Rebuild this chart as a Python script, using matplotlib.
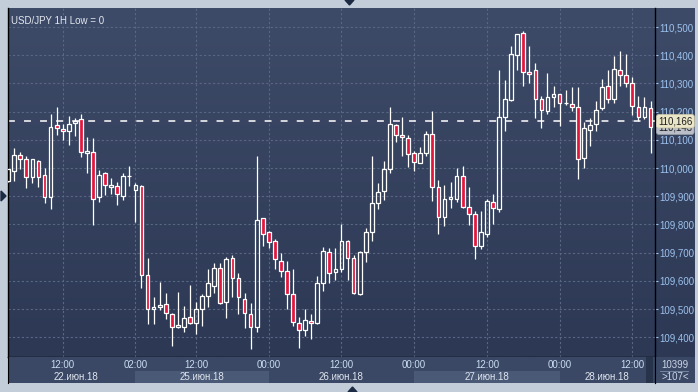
import matplotlib
matplotlib.use("Agg")
import matplotlib.pyplot as plt
import numpy as np
from matplotlib.colors import LinearSegmentedColormap
from matplotlib.patches import Polygon, Rectangle
from matplotlib import transforms

plt.rcParams['font.family'] = ['Liberation Sans', 'DejaVu Sans']

# USD/JPY 1H candles, 107 bars
opens = [109.955, 109.990, 110.045, 110.031, 109.969, 110.024, 109.974, 109.896, 110.151, 110.139,
         110.130, 110.159, 110.175, 110.054, 110.056, 109.896, 109.981, 109.934, 109.935, 109.900,
         109.971, 109.921, 109.935, 109.620, 109.499, 109.508, 109.517, 109.481, 109.435, 109.435,
         109.471, 109.449, 109.499, 109.546, 109.583, 109.644, 109.524, 109.680, 109.609, 109.534,
         109.482, 109.435, 109.822, 109.772, 109.741, 109.670, 109.634, 109.552, 109.449, 109.425,
         109.456, 109.449, 109.591, 109.701, 109.630, 109.641, 109.741, 109.680, 109.552, 109.701,
         109.772, 109.875, 109.920, 109.995, 110.151, 110.116, 110.105, 110.054, 110.019, 110.054,
         110.120, 109.932, 109.827, 109.889, 109.889, 109.973, 109.861, 109.836, 109.725, 109.765,
         109.881, 109.854, 110.182, 110.241, 110.402, 110.480, 110.339, 110.346, 110.244, 110.201,
         110.251, 110.261, 110.229, 110.226, 110.215, 110.034, 110.134, 110.155, 110.212, 110.290,
         110.244, 110.346, 110.329, 110.300, 110.215, 110.180, 110.212]
highs = [109.998, 110.070, 110.056, 110.043, 110.033, 110.028, 109.999, 110.192, 110.217, 110.156,
         110.184, 110.177, 110.192, 110.110, 110.106, 109.993, 109.987, 109.963, 109.951, 109.981,
         110.007, 109.947, 109.939, 109.680, 109.542, 109.595, 109.557, 109.485, 109.559, 109.511,
         109.585, 109.524, 109.553, 109.642, 109.664, 109.664, 109.685, 109.692, 109.629, 109.556,
         109.520, 110.043, 109.824, 109.778, 109.747, 109.700, 109.670, 109.642, 109.471, 109.499,
         109.482, 109.617, 109.719, 109.715, 109.715, 109.801, 109.745, 109.692, 109.707, 109.786,
         110.043, 109.946, 110.025, 110.215, 110.155, 110.180, 110.117, 110.060, 110.073, 110.131,
         110.202, 109.957, 109.940, 109.949, 109.999, 110.007, 109.932, 109.846, 109.848, 109.889,
         109.908, 110.348, 110.312, 110.433, 110.476, 110.486, 110.433, 110.371, 110.255, 110.338,
         110.291, 110.262, 110.277, 110.286, 110.286, 110.164, 110.176, 110.238, 110.315, 110.348,
         110.398, 110.415, 110.404, 110.322, 110.255, 110.251, 110.238]
lows = [109.952, 109.955, 109.995, 109.930, 109.946, 109.934, 109.875, 109.854, 110.118, 110.099,
        110.083, 110.115, 110.040, 109.983, 109.799, 109.881, 109.904, 109.908, 109.870, 109.887,
        109.936, 109.810, 109.576, 109.448, 109.446, 109.497, 109.466, 109.370, 109.432, 109.420,
        109.447, 109.410, 109.441, 109.508, 109.556, 109.518, 109.467, 109.542, 109.481, 109.434,
        109.358, 109.420, 109.725, 109.717, 109.642, 109.615, 109.499, 109.441, 109.363, 109.405,
        109.395, 109.448, 109.565, 109.593, 109.603, 109.632, 109.603, 109.554, 109.550, 109.668,
        109.742, 109.854, 109.887, 109.981, 110.093, 110.044, 110.005, 109.990, 110.017, 110.044,
        109.883, 109.765, 109.795, 109.859, 109.881, 109.859, 109.799, 109.678, 109.712, 109.754,
        109.801, 109.845, 110.132, 110.238, 110.348, 110.292, 110.300, 110.178, 110.141, 110.190,
        110.215, 110.150, 110.223, 110.203, 109.960, 109.999, 110.079, 110.132, 110.205, 110.229,
        110.229, 110.292, 110.288, 110.188, 110.168, 110.174, 110.054]
closes = [109.995, 110.046, 110.033, 109.969, 110.031, 109.969, 109.896, 110.144, 110.142, 110.130,
          110.155, 110.168, 110.056, 110.059, 109.889, 109.974, 109.939, 109.940, 109.907, 109.971,
          109.972, 109.939, 109.620, 109.499, 109.506, 109.515, 109.485, 109.435, 109.442, 109.467,
          109.449, 109.499, 109.546, 109.591, 109.644, 109.520, 109.676, 109.609, 109.542, 109.485,
          109.435, 109.815, 109.765, 109.737, 109.676, 109.635, 109.552, 109.455, 109.425, 109.460,
          109.449, 109.591, 109.705, 109.627, 109.641, 109.741, 109.680, 109.556, 109.701, 109.772,
          109.875, 109.914, 109.995, 110.155, 110.116, 110.109, 110.049, 110.020, 110.054, 110.120,
          109.932, 109.827, 109.889, 109.896, 109.972, 109.861, 109.836, 109.725, 109.772, 109.882,
          109.859, 110.180, 110.244, 110.403, 110.474, 110.339, 110.334, 110.244, 110.205, 110.251,
          110.261, 110.229, 110.231, 110.215, 110.031, 110.141, 110.151, 110.205, 110.286, 110.244,
          110.350, 110.329, 110.300, 110.219, 110.182, 110.215, 110.144]

price_levels = [109.4, 109.5, 109.6, 109.7, 109.8, 109.9, 110.0, 110.1, 110.2, 110.3, 110.4, 110.5]
time_ticks = [9, 21, 31, 43, 55, 67, 79, 91, 103]
time_labels = ["12:00", "02:00", "12:00", "00:00", "12:00", "00:00", "12:00", "00:00", "12:00"]
day_labels = ["22.июн.18", "25.июн.18", "26.июн.18", "27.июн.18", "28.июн.18"]
day_centers = [11.2, 32, 55, 79, 98.8]
day_bands = [(21, 43), (67, 91)]
level_line = 110.166
last_tags = [(110.143, "110,143"), (110.166, "110,166")]

W, H = 698, 392
XLIM = (-0.03, 106.74)
YLIM = (109.3298, 110.5674)

BG_TOP, BG_BOT = '#3e4b68', '#2c3854'
RED = '#e3173e'
GRID = '#596784'
FS = 7


def rect(x0, y0, x1, y1):
    # pixel box (top-left origin) -> figure fraction
    return [x0 / W, 1 - y1 / H, (x1 - x0) / W, (y1 - y0) / H]


def pts(coords):
    return [(x / W, 1 - y / H) for x, y in coords]


fig = plt.figure(figsize=(W / 100, H / 100), dpi=100, facecolor='#c3cdda')

# gradient background for plot + price scale
bg = fig.add_axes(rect(8, 8, 695, 357))
cmap = LinearSegmentedColormap.from_list('bg', [BG_BOT, BG_TOP])
bg.imshow(np.linspace(1, 0, 256).reshape(-1, 1), aspect='auto', cmap=cmap,
          extent=[0, 1, 0, 1], interpolation='bilinear')
bg.axis('off')

ax = fig.add_axes(rect(8, 8, 655, 357))
ax.set_facecolor('none')
ax.set_xlim(*XLIM)
ax.set_ylim(*YLIM)

x = np.arange(len(opens))
o, h, l, c = map(np.array, (opens, highs, lows, closes))
up = c >= o
top = np.maximum(o, c)
bot = np.minimum(o, c)
height = np.maximum(top - bot, 0.002)

ax.vlines(x, top, h, color='white', lw=0.9, zorder=3)
ax.vlines(x, l, bot, color='white', lw=0.9, zorder=3)
ax.bar(x, height, bottom=bot, width=0.62,
       color=['none' if u else RED for u in up],
       edgecolor='white', linewidth=0.9, zorder=4)

ax.axhline(level_line, color='white', lw=1.1, dashes=(4.5, 6), zorder=2)

ax.set_yticks(price_levels)
ax.set_yticklabels([f"{v:.3f}".replace('.', ',') for v in price_levels])
ax.yaxis.tick_right()
ax.tick_params(axis='y', colors='#9cc2ee', labelsize=FS, length=2.5, width=0.8, pad=0.8)
ax.set_xticks(time_ticks)
ax.tick_params(axis='x', length=0, labelbottom=False)
ax.grid(True, color=GRID, lw=0.8, linestyle=(0, (2, 2)))
ax.set_axisbelow(True)
for side in ('left', 'right', 'bottom'):
    ax.spines[side].set_color('black')
    ax.spines[side].set_linewidth(1.0)
ax.spines['top'].set_visible(False)

# price tags on the scale (the last close tag sits under the level tag)
trans = transforms.blended_transform_factory(ax.transAxes, ax.transData)
tag_style = [('#b9bec8', '#9ea4ae'), ('#e9e5c6', '#cbc6a8')]
for (price, label), (fc, ec) in zip(last_tags, tag_style):
    ax.text(1.005, price, label, transform=trans, ha='left', va='center',
            fontsize=FS, color='#1e1e1e', clip_on=False, zorder=6,
            bbox=dict(boxstyle='round,pad=0.18,rounding_size=0.25', fc=fc, ec=ec, lw=0.5))

ax.text(0.004, 0.978, "USD/JPY 1H Low = 0", transform=ax.transAxes, ha='left', va='top',
        fontsize=FS, color='#e2e8f0')

# time axis strip
bx = fig.add_axes(rect(8, 357, 655, 383))
bx.set_facecolor('#3b4865')
bx.set_xlim(*XLIM)
bx.set_ylim(0, 1)
for a, b in day_bands:
    bx.axvspan(a, b, ymin=0, ymax=12 / 26, color='#4a5976', lw=0)
for t, lab in zip(time_ticks, time_labels):
    bx.text(t, 0.69, lab, ha='center', va='center', fontsize=FS, color='#c9dcf2')
for t, lab in zip(day_centers, day_labels):
    bx.text(t, 0.23, lab, ha='center', va='center', fontsize=FS, color='#dfe6ef')
bx.add_patch(Rectangle((0.986, 0.0), 0.011, 1.0, transform=bx.transAxes,
                       color='#27324b', lw=0))
bx.set_xticks([])
bx.set_yticks([])
for side in ('left', 'right'):
    bx.spines[side].set_color('black')
bx.spines['top'].set_visible(False)
bx.spines['bottom'].set_visible(False)

# bar counter box
rx = fig.add_axes(rect(655, 357, 695, 383))
rx.set_facecolor('#3b4865')
rx.set_xlim(0, 1)
rx.set_ylim(0, 1)
rx.text(0.5, 0.71, "10399", ha='center', va='center', fontsize=FS, color='#c9d6e6')
rx.text(0.5, 0.23, ">107<", ha='center', va='center', fontsize=FS, color='#c9d6e6')
rx.plot([0.12, 0.82], [0.47, 0.47], color='#8090a8', lw=0.6)
rx.set_xticks([])
rx.set_yticks([])
for side in rx.spines:
    rx.spines[side].set_visible(False)
rx.spines['left'].set_visible(True)
rx.spines['left'].set_color('black')

# window decorations
fig.add_artist(Polygon(pts([(1, 191), (1, 201), (6, 196)]), closed=True,
                       transform=fig.transFigure, color='#1d2a44'))
fig.add_artist(Polygon(pts([(345, 0), (354, 0), (349.5, 5)]), closed=True,
                       transform=fig.transFigure, color='#1d2a44'))
fig.add_artist(Polygon(pts([(348, 392), (357, 392), (352.5, 387)]), closed=True,
                       transform=fig.transFigure, color='#1d2a44'))

fig.savefig("out.png", dpi=100, facecolor=fig.get_facecolor())
